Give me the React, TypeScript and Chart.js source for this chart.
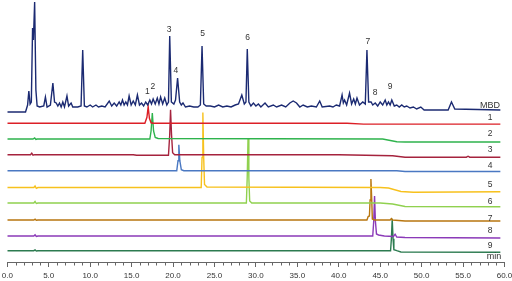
import { useEffect, useRef } from "react";
import { Chart, registerables } from "chart.js";

Chart.register(...registerables);

type Pt = [number, number];

// ---- data (time in min, signal relative to each trace's own baseline) ----
const traceNames = ["MBD", "1", "2", "3", "4", "5", "6", "7", "8", "9"];
const baselineLevels = [152, 138.7, 123, 107.3, 91.3, 74.5, 59, 42, 26, 11.3];

const traceMBD: Pt[] = [
  [0, -2], [2.2, -2], [2.45, 5], [2.6, 19], [2.75, 6], [2.9, 8], [3.05, 82], [3.15, 70],
  [3.3, 108], [3.45, 20], [3.6, 4], [3.9, 3], [4.4, 4], [4.6, 13], [4.8, 3], [5.2, 5],
  [5.5, 27], [5.7, 8], [5.9, 7], [6.1, 4], [6.3, 7], [6.5, 3], [6.7, 8], [6.9, 3],
  [7.2, 14], [7.4, 4], [7.7, 7], [7.9, 3], [8.5, 3], [8.9, 4], [9.1, 60], [9.3, 4],
  [9.6, 3], [10.0, 5], [10.3, 3], [10.7, 5], [11.0, 3], [11.4, 4], [11.8, 3], [12.3, 9],
  [12.6, 4], [12.9, 7], [13.2, 4], [13.5, 8], [13.7, 5], [13.9, 10], [14.1, 5], [14.3, 8],
  [14.5, 5], [14.7, 14], [14.95, 5], [15.2, 9], [15.45, 5], [15.7, 15], [15.95, 5], [16.2, 7],
  [16.45, 4], [16.7, 8], [16.95, 5], [17.2, 10], [17.4, 6], [17.6, 11], [17.85, 6], [18.1, 12],
  [18.3, 6], [18.5, 13], [18.75, 6], [19.0, 12], [19.25, 5], [19.45, 8], [19.6, 74], [19.8, 8],
  [20.1, 6], [20.3, 10], [20.55, 32], [20.8, 8], [21.0, 5], [21.2, 7], [21.5, 3], [22.0, 4],
  [22.5, 3], [23.0, 3], [23.3, 5], [23.5, 64], [23.7, 6], [24.0, 4], [24.5, 4], [25.0, 3],
  [25.5, 5], [26.0, 3], [26.5, 4], [27.0, 3], [27.5, 5], [27.9, 6], [28.3, 15], [28.6, 6],
  [28.8, 8], [28.96, 61], [29.15, 8], [29.4, 4], [29.7, 7], [30.0, 4], [30.3, 6], [30.6, 3],
  [31.1, 7], [31.5, 3], [32.1, 5], [32.5, 3], [33.1, 5], [33.6, 3], [34.1, 7], [34.5, 9],
  [34.9, 7], [35.3, 3], [35.7, 5], [36.2, 3], [36.7, 4], [37.3, 3], [37.7, 9], [38.0, 3],
  [38.9, 4], [39.3, 3], [39.7, 5], [40.1, 4], [40.4, 15], [40.55, 7], [40.7, 10], [40.95, 5],
  [41.3, 17], [41.55, 6], [41.8, 11], [42.0, 6], [42.2, 12], [42.5, 5], [42.9, 8], [43.2, 6],
  [43.4, 60], [43.6, 8], [43.9, 8], [44.1, 5], [44.4, 7], [44.7, 4], [45.0, 8], [45.3, 5],
  [45.6, 10], [45.8, 5], [46.0, 8], [46.2, 5], [46.4, 10], [46.7, 4], [47.0, 5], [47.3, 3],
  [47.6, 5], [47.9, 3], [48.2, 4], [48.6, 2], [49.0, 3], [49.4, 1], [49.9, 3], [50.3, 0],
  [53.2, 0], [53.6, 8], [54.0, 1], [59.5, 0],
];

const trace1: Pt[] = [
  [0, 0], [16.6, 0], [16.85, 6], [17.0, 16.5], [17.15, 5], [17.35, 0.5], [17.6, 0],
  [41, 0], [43, -0.8], [59.5, -0.8],
];
const trace2: Pt[] = [
  [0, 0], [3.1, 0], [3.3, 1], [3.45, -0.5], [3.6, 0], [17.2, 0], [17.35, 8], [17.5, 26],
  [17.65, 8], [17.85, 1.5], [18.2, 0.5], [45.3, 0], [47, -2.8], [48, -3], [59.5, -3],
];
const trace3: Pt[] = [
  [0, 0], [2.8, 0], [2.95, 1.5], [3.1, -0.5], [3.3, 0], [15.2, 0], [15.6, -0.6], [19.45, -0.6],
  [19.6, 20], [19.7, 45], [19.82, 20], [19.95, 2], [20.2, 0], [40, 0], [46.5, -1], [48, -2.5],
  [55.4, -2.5], [55.6, -1.5], [55.8, -2.5], [59.5, -2.5],
];
const trace4: Pt[] = [
  [0, 0], [20.45, 0], [20.6, 10], [20.7, 26], [20.82, 10], [21.0, 1], [21.3, 0],
  [47, 0], [48, -0.8], [59.5, -0.8],
];
const trace5: Pt[] = [
  [0, 0], [3.2, 0], [3.35, 1.5], [3.5, -0.8], [3.7, 0], [23.4, 0], [23.5, 30], [23.6, 75],
  [23.7, 30], [23.8, 3], [24.1, 0.5], [45, 0], [46, -0.5], [47.5, -4], [49, -4.7], [59.5, -4.3],
];
const trace6: Pt[] = [
  [0, 0], [3.2, 0], [3.35, 1.5], [3.5, -0.5], [3.7, 0], [28.85, 0], [28.95, 25], [29.05, 65],
  [29.15, 25], [29.25, 2], [29.5, 0], [45, 0], [46.5, -1], [48, -3.5], [59.5, -3.7],
];
const trace7: Pt[] = [
  [0, 0], [3.2, 0], [3.35, 0.8], [3.5, -0.3], [3.7, 0], [43.4, 0], [43.55, 3.5], [43.7, 4],
  [43.78, 20], [43.88, 41], [43.98, 20], [44.05, 1], [44.3, 0], [46.2, 0], [46.35, 1.5],
  [46.5, 0], [48, -1], [59.5, -1],
];
const trace8: Pt[] = [
  [0, 0], [3.2, 0], [3.35, 1.2], [3.5, -0.5], [3.7, 0], [44.1, 0], [44.22, 15], [44.32, 40],
  [44.42, 15], [44.55, 2], [44.8, 1], [45.5, 0], [46.6, -0.5], [46.8, 1.8], [47.0, -1],
  [48.0, -1.5], [59.5, -2],
];
const trace9: Pt[] = [
  [0, 0], [3.2, 0], [3.35, 0.8], [3.5, -0.3], [3.7, 0], [46.25, 0], [46.35, 12], [46.45, 32],
  [46.55, 12], [46.65, 1], [47, 0], [47.5, -1.3], [59.5, -1.5],
];

const traces: Pt[][] = [traceMBD, trace1, trace2, trace3, trace4, trace5, trace6, trace7, trace8, trace9];

const peakLabels = ["1", "2", "3", "4", "5", "6", "7", "8", "9"];
const peakLabelTimes = [16.9, 17.57, 19.53, 20.34, 23.56, 28.99, 43.5, 44.4, 46.2];
const peakLabelLevels = [170, 175, 232, 191, 228, 224, 220, 169.5, 175];

const sideLabelLevels = [156, 144.5, 128, 112.7, 96, 77, 60.3, 43.7, 31.5, 16];
const unitLabel = "min";
const unitLabelLevel = 5.3;

const timeMin = 0;
const timeMax = 60;
const majorStep = 5;
const minorStep = 1;
const yMin = 0;
const yMax = 262;

// ---- styles ----
const traceColors = [
  "#1b2a72", "#dc1f26", "#2eb34c", "#a5233d", "#4a78c2",
  "#f7c11d", "#90d14f", "#b8760f", "#8b3ab8", "#2c7b50",
];
const fontFamily = '"Liberation Sans", Arial, Helvetica, sans-serif';
const axisColor = "#666";
const textColor = "#333";

const annotatePlugin = {
  id: "annotate",
  afterDraw(chart: any) {
    const { ctx, chartArea } = chart;
    const xs = chart.scales.x;
    const ys = chart.scales.y;
    ctx.save();
    // minor ticks
    ctx.strokeStyle = axisColor;
    ctx.lineWidth = 1;
    for (let v = timeMin; v <= timeMax; v += minorStep) {
      if (v % majorStep === 0) continue;
      const px = Math.round(xs.getPixelForValue(v)) + 0.5;
      ctx.beginPath();
      ctx.moveTo(px, chartArea.bottom);
      ctx.lineTo(px, chartArea.bottom + 3.5);
      ctx.stroke();
    }
    ctx.fillStyle = textColor;
    ctx.textAlign = "center";
    ctx.textBaseline = "middle";
    // peak labels
    ctx.font = `8.5px ${fontFamily}`;
    peakLabels.forEach((t, i) => {
      ctx.fillText(t, xs.getPixelForValue(peakLabelTimes[i]), ys.getPixelForValue(peakLabelLevels[i]));
    });
    // side labels
    const sideX = chartArea.right - 14.5;
    traceNames.forEach((t, i) => {
      ctx.font = i === 0 ? `9px ${fontFamily}` : `8.5px ${fontFamily}`;
      ctx.fillText(t, sideX, ys.getPixelForValue(sideLabelLevels[i]));
    });
    ctx.font = `9px ${fontFamily}`;
    ctx.fillText(unitLabel, sideX + 4, ys.getPixelForValue(unitLabelLevel));
    ctx.restore();
  },
};

export default function App() {
  const ref = useRef<HTMLCanvasElement | null>(null);
  useEffect(() => {
    if (!ref.current) return;
    const datasets = traces.map((tr, i) => ({
      label: traceNames[i],
      data: tr.map(([t, v]) => ({ x: t, y: baselineLevels[i] + v })),
      borderColor: traceColors[i],
      borderWidth: 1.4,
      pointRadius: 0,
      tension: 0,
      fill: false,
    }));
    const chart = new Chart(ref.current, {
      type: "line",
      data: { datasets },
      options: {
        animation: false,
        responsive: false,
        devicePixelRatio: 1,
        layout: { padding: { left: 7.3, right: 7.5, top: 0, bottom: 0 } },
        plugins: { legend: { display: false }, tooltip: { enabled: false } },
        scales: {
          x: {
            type: "linear",
            min: timeMin,
            max: timeMax,
            afterFit: (scale: any) => {
              scale.height = 19;
              scale.paddingLeft = 0;
              scale.paddingRight = 0;
            },
            ticks: {
              stepSize: majorStep,
              autoSkip: false,
              maxRotation: 0,
              padding: 4,
              color: textColor,
              font: { family: fontFamily, size: 8 },
              callback: (v: any) => Number(v).toFixed(1),
            },
            grid: {
              display: true,
              drawOnChartArea: false,
              drawTicks: true,
              tickLength: 5,
              color: axisColor,
              lineWidth: 1,
            },
            border: { display: true, color: axisColor, width: 1 },
          },
          y: { type: "linear", display: false, min: yMin, max: yMax },
        },
      },
      plugins: [annotatePlugin],
    });
    return () => chart.destroy();
  }, []);
  return (
    <div style={{ position: "fixed", left: 0, top: 0, width: 512, height: 281, background: "#fff" }}>
      <canvas ref={ref} width={512} height={281} style={{ display: "block" }} />
    </div>
  );
}
